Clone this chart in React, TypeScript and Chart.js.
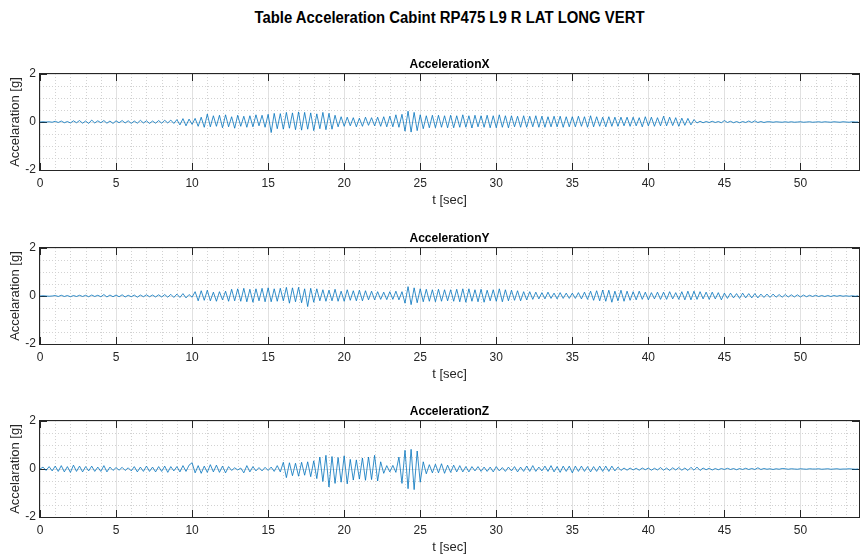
import React, { useEffect, useRef } from "react";
import { Chart, registerables } from "chart.js";

Chart.register(...registerables);

// ---- data (sampled every DT seconds, 5 samples per second; one row per second) ----
const DT = 0.2;
const X_MAX = 53.85;
const X_TICK_STEP = 5;
const X_MINOR_STEP = 1;
const Y_MIN = -2;
const Y_MAX = 2;
const Y_TICK_STEP = 2;
const Y_MINOR_STEP = 0.5;

const MAIN_TITLE = "Table Acceleration Cabint RP475 L9 R LAT LONG VERT";
const PANEL_TITLES = ["AccelerationX", "AccelerationY", "AccelerationZ"];
const X_LABEL = "t [sec]";
const Y_LABEL = "Accelaration [g]";

const ACC_X = [
  0, 0.01, 0, 0.01, -0.01,
  0.03, -0.02, 0.04, -0.03, 0.02,
  -0.04, 0.05, -0.03, 0.06, -0.05,
  0.04, -0.06, 0.08, -0.04, 0.05,
  -0.03, 0.06, -0.05, 0.04, -0.06,
  0.05, -0.03, 0.06, -0.04, 0.05,
  -0.06, 0.04, -0.05, 0.07, -0.04,
  0.05, -0.06, 0.04, -0.05, 0.06,
  -0.05, 0.07, -0.04, 0.08, -0.06,
  0.1, -0.12, 0.14, -0.16, 0.12,
  -0.1, 0.15, -0.18, 0.2, -0.22,
  0.33, -0.2, 0.26, -0.18, 0.28,
  -0.24, 0.3, -0.2, 0.22, -0.26,
  0.28, -0.18, 0.24, -0.22, 0.26,
  -0.2, 0.3, -0.16, 0.28, -0.22,
  0.32, -0.44, 0.36, -0.28, 0.35,
  -0.3, 0.4, -0.26, 0.38, -0.32,
  0.42, -0.34, 0.4, -0.3, 0.38,
  -0.36, 0.34, -0.28, 0.4, -0.32,
  0.36, -0.3, 0.28, -0.2, 0.22,
  -0.18, 0.2, -0.16, 0.18, -0.2,
  0.16, -0.18, 0.2, -0.14, 0.18,
  -0.16, 0.2, -0.18, 0.22, -0.2,
  0.24, -0.2, 0.3, -0.22, 0.32,
  -0.38, 0.45, -0.42, 0.4, -0.36,
  0.3, -0.28, 0.26, -0.24, 0.28,
  -0.24, 0.28, -0.22, 0.26, -0.24,
  0.28, -0.24, 0.26, -0.22, 0.3,
  -0.22, 0.26, -0.25, 0.28, -0.2,
  0.26, -0.22, 0.28, -0.24, 0.26,
  -0.24, 0.3, -0.22, 0.26, -0.24,
  0.26, -0.2, 0.24, -0.22, 0.26,
  -0.22, 0.24, -0.2, 0.26, -0.22,
  0.24, -0.22, 0.22, -0.2, 0.24,
  -0.2, 0.24, -0.22, 0.22, -0.2,
  0.22, -0.2, 0.24, -0.18, 0.22,
  -0.22, 0.26, -0.2, 0.22, -0.18,
  0.2, -0.2, 0.22, -0.18, 0.2,
  -0.18, 0.2, -0.16, 0.2, -0.18,
  0.2, -0.16, 0.18, -0.2, 0.22,
  -0.16, 0.2, -0.18, 0.18, -0.16,
  0.24, -0.16, 0.2, -0.15, 0.18,
  -0.18, 0.16, -0.14, 0.15, -0.12,
  0.1, -0.04, 0.03, -0.03, 0.02,
  -0.02, 0.03, -0.02, 0.02, -0.03,
  0.06, -0.02, 0.03, -0.03, 0.02,
  -0.03, 0.02, -0.02, 0.04, -0.02,
  0.05, -0.02, 0.02, -0.02, 0.01,
  0.01, -0.01, 0.01, 0, -0.01,
  0.01, -0.01, 0.01, -0.01, 0,
  0.01, -0.01, 0, 0.01, -0.01,
  0, 0.01, -0.01, 0.01, 0,
  -0.01, 0.01, 0, -0.01, 0.01,
  0, -0.01, 0.01, 0, 0,
];

const ACC_Y = [
  0, 0.01, 0, -0.01, 0,
  0.02, -0.02, 0.03, -0.02, 0.02,
  -0.03, 0.02, -0.02, 0.03, -0.02,
  0.03, -0.03, 0.04, -0.02, 0.03,
  -0.03, 0.06, -0.04, 0.04, -0.03,
  0.04, -0.03, 0.05, -0.04, 0.03,
  -0.03, 0.04, -0.05, 0.04, -0.03,
  0.05, -0.03, 0.04, -0.04, 0.05,
  -0.04, 0.06, -0.05, 0.07, -0.06,
  0.08, -0.06, 0.1, -0.08, 0.06,
  -0.05, 0.18, -0.2, 0.22, -0.18,
  0.24, -0.2, 0.16, -0.22, 0.18,
  -0.16, 0.2, -0.22, 0.28, -0.2,
  0.3, -0.22, 0.32, -0.24, 0.28,
  -0.26, 0.3, -0.2, 0.32, -0.24,
  0.34, -0.24, 0.3, -0.22, 0.32,
  -0.2, 0.36, -0.3, 0.34, -0.24,
  0.36, -0.28, 0.3, -0.44, 0.32,
  -0.26, 0.3, -0.2, 0.26, -0.22,
  0.24, -0.2, 0.28, -0.22, 0.2,
  -0.22, 0.26, -0.18, 0.22, -0.2,
  0.24, -0.2, 0.22, -0.16, 0.2,
  -0.16, 0.18, -0.14, 0.16, -0.15,
  0.18, -0.14, 0.2, -0.16, 0.18,
  -0.3, 0.39, -0.36, 0.34, -0.28,
  0.3, -0.24, 0.28, -0.22, 0.26,
  -0.24, 0.28, -0.22, 0.26, -0.2,
  0.26, -0.22, 0.28, -0.24, 0.3,
  -0.26, 0.3, -0.22, 0.26, -0.24,
  0.28, -0.26, 0.24, -0.2, 0.26,
  -0.22, 0.3, -0.24, 0.26, -0.2,
  0.24, -0.18, 0.22, -0.2, 0.18,
  -0.16, 0.18, -0.14, 0.16, -0.12,
  0.14, -0.12, 0.16, -0.1, 0.12,
  -0.12, 0.14, -0.1, 0.12, -0.1,
  0.12, -0.1, 0.14, -0.12, 0.16,
  -0.14, 0.2, -0.18, 0.22, -0.2,
  0.25, -0.22, 0.24, -0.26, 0.2,
  -0.2, 0.24, -0.22, 0.2, -0.18,
  0.18, -0.16, 0.2, -0.14, 0.16,
  -0.16, 0.14, -0.12, 0.16, -0.14,
  0.16, -0.14, 0.18, -0.12, 0.14,
  -0.14, 0.18, -0.16, 0.2, -0.16,
  0.2, -0.14, 0.18, -0.12, 0.16,
  -0.14, 0.16, -0.12, 0.14, -0.16,
  0.12, -0.1, 0.12, -0.08, 0.1,
  -0.1, 0.12, -0.08, 0.1, -0.08,
  0.1, -0.08, 0.08, -0.06, 0.08,
  -0.06, 0.08, -0.05, 0.06, -0.05,
  0.06, -0.04, 0.05, -0.04, 0.05,
  -0.04, 0.04, -0.03, 0.03, -0.02,
  0.03, -0.02, 0.02, -0.02, 0.02,
  -0.02, 0.02, -0.01, 0.02, -0.01,
  0.01, -0.01, 0.01, -0.01, 0.01,
];

const ACC_Z = [
  0, 0.08, -0.06, 0.1, -0.08,
  0.12, -0.1, 0.14, -0.12, 0.1,
  -0.14, 0.16, -0.1, 0.12, -0.12,
  0.1, -0.08, 0.12, -0.1, 0.08,
  -0.1, 0.14, -0.12, 0.08, -0.06,
  0.06, -0.05, 0.07, -0.06, 0.05,
  -0.08, 0.1, -0.12, 0.08, -0.1,
  0.12, -0.1, 0.08, -0.12, 0.1,
  -0.1, 0.12, -0.14, 0.1, -0.08,
  0.1, -0.12, 0.14, -0.1, 0.16,
  0.26, -0.16, 0.14, -0.18, 0.12,
  -0.14, 0.18, -0.12, 0.16, -0.14,
  0.12, -0.16, 0.1, -0.06, 0.05,
  -0.04, 0.04, -0.16, 0.14, -0.12,
  0.1, -0.08, 0.06, -0.08, 0.07,
  -0.06, 0.08, -0.1, 0.14, -0.12,
  0.28, -0.36, 0.26, -0.28, 0.24,
  -0.3, 0.28, -0.26, 0.3, -0.32,
  0.34, -0.4, 0.5, -0.52, 0.57,
  -0.75, 0.52, -0.6, 0.48, -0.55,
  0.55, -0.62, 0.4, -0.46, 0.38,
  -0.42, 0.46, -0.47, 0.5, -0.44,
  0.57, -0.5, 0.3, -0.18, 0.14,
  -0.12, 0.15, -0.14, 0.5, -0.6,
  0.78, -0.82, 0.82, -0.86, 0.75,
  -0.55, 0.3, -0.2, 0.18, -0.16,
  0.2, -0.16, 0.22, -0.18, 0.16,
  -0.14, 0.16, -0.12, 0.14, -0.12,
  0.1, -0.12, 0.1, -0.08, 0.1,
  -0.1, 0.08, -0.1, 0.08, -0.12,
  0.1, -0.08, 0.06, -0.1, 0.08,
  -0.08, 0.1, -0.12, 0.08, -0.1,
  0.12, -0.1, 0.14, -0.1, 0.08,
  -0.08, 0.12, -0.1, 0.14, -0.12,
  0.1, -0.14, 0.12, -0.1, 0.12,
  -0.16, 0.12, -0.1, 0.12, -0.1,
  0.1, -0.12, 0.1, -0.1, 0.12,
  -0.1, 0.12, -0.1, 0.12, -0.08,
  0.08, -0.06, 0.04, -0.05, 0.04,
  -0.04, 0.03, -0.05, 0.04, -0.03,
  0.04, -0.05, 0.03, -0.04, 0.06,
  -0.05, 0.04, -0.06, 0.05, -0.04,
  0.06, -0.05, 0.04, -0.06, 0.07,
  -0.05, 0.08, -0.06, 0.04, -0.03,
  0.03, -0.04, 0.02, -0.03, 0.02,
  -0.02, 0.03, -0.02, 0.02, -0.03,
  0.02, -0.02, 0.03, -0.02, 0.02,
  -0.02, 0.05, -0.02, 0.02, -0.01,
  0.01, -0.02, 0.01, -0.01, 0.02,
  0.01, -0.01, 0.01, 0, -0.01,
  0.01, 0, -0.01, 0.01, 0,
  0, 0.01, -0.01, 0, 0.01,
  -0.01, 0, 0.01, -0.01, 0,
  0, 0.01, 0, -0.01, 0,
];

const SERIES = [ACC_X, ACC_Y, ACC_Z];

// ---- layout / style ----
const W = 860;
const H = 554;
const PANEL_TOPS = [50, 224, 397];
const PANEL_H = 160;
const FONT = "'Liberation Sans', Arial, Helvetica, sans-serif";
const LINE_COLOR = "#0072BD";
const AXIS_COLOR = "#262626";
const GRID_COLOR = "#e1e1e1";
const MINOR_GRID_COLOR = "#d2d2d2";

const matlabAxes = {
  id: "matlabAxes",
  beforeDatasetsDraw(chart: any) {
    const { ctx, chartArea, scales } = chart;
    const { left, right, top, bottom } = chartArea;
    const x = scales.x;
    const y = scales.y;
    const a = (v: number) => Math.round(v) + 0.5;
    ctx.save();
    // minor grid
    ctx.strokeStyle = MINOR_GRID_COLOR;
    ctx.lineWidth = 1;
    ctx.setLineDash([1, 2]);
    ctx.beginPath();
    for (let t = X_MINOR_STEP; t < x.max; t += X_MINOR_STEP) {
      if (Math.abs(t / X_TICK_STEP - Math.round(t / X_TICK_STEP)) < 1e-6) continue;
      const px = a(x.getPixelForValue(t));
      ctx.moveTo(px, top);
      ctx.lineTo(px, bottom);
    }
    for (let v = Y_MIN + Y_MINOR_STEP; v < Y_MAX; v += Y_MINOR_STEP) {
      if (Math.abs(v / Y_TICK_STEP - Math.round(v / Y_TICK_STEP)) < 1e-6) continue;
      const py = a(y.getPixelForValue(v));
      ctx.moveTo(left, py);
      ctx.lineTo(right, py);
    }
    ctx.stroke();
    ctx.setLineDash([]);
    // box
    ctx.strokeStyle = AXIS_COLOR;
    ctx.lineWidth = 1;
    ctx.strokeRect(a(left) - 1, a(top) - 1, Math.round(right - left) + 1, Math.round(bottom - top) + 1);
    // inner tick marks
    const tl = 7;
    ctx.beginPath();
    x.ticks.forEach((tk: any) => {
      const px = a(x.getPixelForValue(tk.value));
      ctx.moveTo(px, bottom);
      ctx.lineTo(px, bottom - tl);
      ctx.moveTo(px, top);
      ctx.lineTo(px, top + tl);
    });
    y.ticks.forEach((tk: any) => {
      const py = a(y.getPixelForValue(tk.value));
      ctx.moveTo(left, py);
      ctx.lineTo(left + tl, py);
      ctx.moveTo(right, py);
      ctx.lineTo(right - tl, py);
    });
    ctx.stroke();
    ctx.restore();
  },
};

function makeConfig(title: string, values: number[]): any {
  return {
    type: "line",
    data: {
      datasets: [
        {
          data: values.map((v, i) => ({ x: i * DT, y: v })),
          borderColor: LINE_COLOR,
          borderWidth: 0.8,
          pointRadius: 0,
          tension: 0,
          fill: false,
        },
      ],
    },
    options: {
      responsive: false,
      animation: false,
      devicePixelRatio: 1,
      events: [],
      layout: { padding: { top: 7, right: 1, left: 0, bottom: 0 } },
      plugins: {
        legend: { display: false },
        tooltip: { enabled: false },
        title: {
          display: true,
          fullSize: false,
          text: title,
          color: "#000",
          font: { family: FONT, size: 12, weight: "bold", lineHeight: 1.2 },
          padding: { top: 0, bottom: 2.6 },
        },
      },
      scales: {
        x: {
          type: "linear",
          min: 0,
          max: X_MAX,
          border: { display: false },
          grid: { color: GRID_COLOR, lineWidth: 1, drawTicks: false },
          ticks: {
            stepSize: X_TICK_STEP,
            includeBounds: false,
            padding: 6,
            color: AXIS_COLOR,
            font: { family: FONT, size: 12 },
            maxRotation: 0,
            autoSkip: false,
          },
          title: {
            display: true,
            text: X_LABEL,
            color: AXIS_COLOR,
            font: { family: FONT, size: 13 },
            padding: { top: 0, bottom: 2 },
          },
          afterFit: (s: any) => {
            s.height = 40;
          },
        },
        y: {
          type: "linear",
          min: Y_MIN,
          max: Y_MAX,
          border: { display: false },
          grid: { color: GRID_COLOR, lineWidth: 1, drawTicks: false },
          ticks: {
            stepSize: Y_TICK_STEP,
            padding: 4,
            color: AXIS_COLOR,
            font: { family: FONT, size: 12 },
          },
          title: {
            display: true,
            text: Y_LABEL,
            color: AXIS_COLOR,
            font: { family: FONT, size: 13 },
            padding: { top: 8, bottom: 0 },
          },
          afterFit: (s: any) => {
            s.width = 40;
          },
        },
      },
    },
    plugins: [matlabAxes],
  };
}

export default function App() {
  const r0 = useRef<HTMLCanvasElement>(null);
  const r1 = useRef<HTMLCanvasElement>(null);
  const r2 = useRef<HTMLCanvasElement>(null);
  const refs = [r0, r1, r2];

  useEffect(() => {
    const charts = refs.map((r, i) => new Chart(r.current as HTMLCanvasElement, makeConfig(PANEL_TITLES[i], SERIES[i])));
    return () => charts.forEach((c) => c.destroy());
  }, []);

  return (
    <div
      style={{
        position: "absolute",
        left: 0,
        top: 0,
        width: W,
        height: H,
        overflow: "hidden",
        background: "#fff",
        fontFamily: FONT,
      }}
    >
      <div
        style={{
          position: "absolute",
          left: 40,
          width: 819,
          top: 7,
          lineHeight: "22px",
          textAlign: "center",
          fontSize: 16,
          fontWeight: "bold",
          color: "#000",
          whiteSpace: "nowrap",
          transform: "scaleX(0.93)",
        }}
      >
        {MAIN_TITLE}
      </div>
      {refs.map((r, i) => (
        <canvas
          key={i}
          ref={r}
          width={W}
          height={PANEL_H}
          style={{ position: "absolute", left: 0, top: PANEL_TOPS[i], width: W, height: PANEL_H }}
        />
      ))}
    </div>
  );
}
